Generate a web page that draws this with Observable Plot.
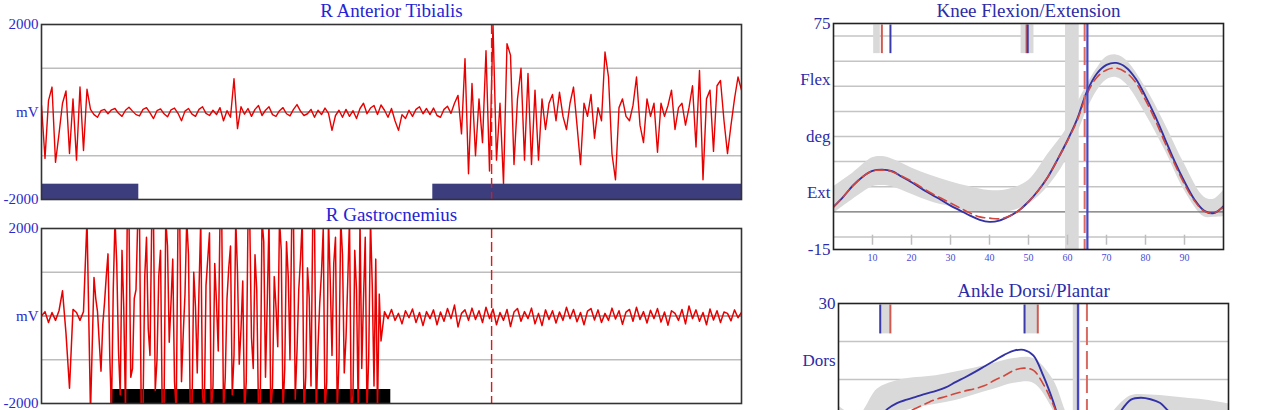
<!DOCTYPE html>
<html>
<head>
<meta charset="utf-8">
<script src="https://cdn.jsdelivr.net/npm/d3@7"></script>
<script src="https://cdn.jsdelivr.net/npm/@observablehq/plot@0.6"></script>
<style>
  html, body { margin: 0; padding: 0; background: #ffffff; }
  #wrap { position: relative; width: 1280px; height: 410px; overflow: hidden; background: #ffffff; }
  #wrap svg { position: absolute; background: transparent; overflow: visible; }
</style>
</head>
<body>
<div id="wrap"></div>
<script>
// ---------------- DATA ----------------
// EMG R Anterior Tibialis, one sample every 0.5 % of the gait cycle (mV)
const taStart = 0, taStep = 0.5;
const taValues = [
  150,-1060,260,570,-1150,-500,200,480,-950,300,-1100,570,-880,520,60,
  -60,-120,30,60,-40,50,80,-30,-100,40,110,20,-60,-90,60,100,-20,-150,30,70,-40,-110,50,90,-30,-200,20,80,-50,-100,60,120,-30,-80,
  40,-60,100,-200,30,-120,760,-380,120,-50,80,-100,60,150,-80,40,120,-60,-100,
  30,100,-40,-90,60,170,20,-80,-40,60,-120,40,-60,90,-30,-420,-80,40,-120,60,-100,30,-150,80,200,-40,90,150,-60,160,40,-120,80,
  -200,-420,-60,-150,40,-100,60,120,-40,80,-60,90,-80,-120,60,130,-30,
  200,380,-500,1220,-1410,650,-1000,300,-700,1400,-1350,2000,-1100,200,-1640,1560,1300,-1200,300,1000,-1100,880,-1200,500,-1100,300,-400,200,400,-200,450,-100,
  -400,200,570,-300,-1200,200,-100,400,-600,100,-200,1370,800,-960,-1550,100,300,-100,-200,150,800,-300,-700,300,-100,200,-920,200,-100,150,500,-400,100,200,-300,100,600,-800,950,-1550,300,500,-900,600,720,-200,-950,-300,300,800,500
];
// EMG R Gastrocnemius in three stretches (pre-burst, burst sampled finer, post-burst)
const gaPreStart = 0, gaPreStep = 0.5;
const gaPreValues = [0,100,-150,80,-100,120,575,-400,-1650,150,80,-100,100,2200,-2200];
const gaBurstStart = 7.5, gaBurstStep = 0.25;
const gaBurstValues = [
  880,400,100,-600,-1260,-200,300,900,1420,-900,
  -2200,600,2200,1200,-800,-1800,1500,200,-2200,2200,
  2200,-1400,-1200,400,600,2200,2200,-2200,-2200,900,
  1800,-300,-900,2200,2200,-1700,-1000,900,1500,-2200,
  -2200,2200,1600,-600,300,1300,-1500,-2200,2200,2200,
  -1500,-400,500,2200,1400,-2200,-2200,1000,200,-1300,
  600,2200,-1800,-2200,700,1300,1900,-2200,-1600,1200,
  300,-800,2200,2200,-2200,-1400,400,1100,1600,-1800,
  -900,2200,1000,-1100,-300,800,-2200,-1500,2200,2200,
  -500,-1200,1400,600,-2200,-2000,2200,1700,-1400,300,
  2200,-2200,-1600,900,200,-700,2200,1500,-2200,-1200,
  1700,900,-1000,2200,2200,-1900,-800,600,1300,2200,
  -2200,-1400,1100,400,-1600,2200,2200,-2200,-700,300,
  1000,2000,-2200,-1500,2200,800,-900,1200,1800,-2200,
  -1000,2200,1400,-1300,-500,800,2200,-2200,-1800,1500,
  600,-2200,2200,-1200,400,1800,-2200,-900,2200,700,
  -1600,1300,-2200,500,-570
];
const gaPostStart = 49, gaPostStep = 0.5;
const gaPostValues = [
  100,-60,150,-100,60,-180,120,-40,160,-150,80,-220,100,-60,140,-200,90,-120,170,-60,250,
  -250,60,140,-100,180,-80,120,-150,200,-60,160,-200,80,-100,150,-240,90,170,-120,100,
  -60,180,-180,60,-220,140,-80,120,-160,90,-100,200,-60,150,-130,80,-200,110,170,-90,
  140,-150,60,-100,180,-70,120,-190,90,150,-120,200,-80,100,-160,130,-60,170,-140,90,
  -210,120,60,-100,150,-180,230,-60,140,-120,80,-200,160,-90,120,-150,90,60,-110,140,-40,80
];
const taBarStart = [0, 55.9];
const taBarEnd = [13.9, 100];
const gaBarStart = [9.9];
const gaBarEnd = [49.9];
const emgEventPct = 64.3;

// Knee flexion/extension (deg) vs % gait cycle
const kneePct  = [0,2.5,5,7.5,10,12.5,15,17.5,20,22.5,25,27.5,30,32.5,35,37.5,40,42.5,45,47.5,50,52.5,55,57.5,60,62.5,65,67.5,70,72.5,75,77.5,80,82.5,85,87.5,90,92.5,95,97.5,100];
const kneeBlue = [2,6,10.5,14,16.3,16.8,16.2,14,11.8,9.3,7,4.8,2.5,0.5,-1.5,-3.2,-4,-3.5,-1.8,0.5,4,8.5,14,21,28.5,37,48,55,58.5,59.3,57.5,53,46,38,29,20,12,5,0.5,-0.5,2.3];
const kneeRed  = [2,6,10.5,14,16.3,16.6,16,14.2,12.2,9.8,7.5,5.5,3.5,1.5,-0.5,-2,-2.5,-2.8,-1.8,0.5,4,8.5,14,21,28.3,36.5,47,53.5,56.5,57.2,55.5,51.5,44.5,36.5,27.5,19,11,4.5,0.3,-0.5,2];
const kneeNormPct = [0,5,10,12.5,15,20,25,30,35,40,45,50,55,60,62.5,65,67.5,70,72.5,75,80,85,90,95,97.5,100];
const kneeNormLo  = [-0.7,5,10,10.5,10,7,4,2,0,-0.7,0,3,10,21.5,31,40.5,48,52.5,53.5,51,39,24.5,8.5,-2,-2.2,-2];
const kneeNormHi  = [10,15.5,21.5,22,21,17.5,14.5,12,10,8.5,9,12.5,23,33.7,43,50.5,57,61.7,62.5,60.5,49.6,35,19,5.9,5,8.5];
const kneeYTicks = [-15, 7.5, 30, 52.5, 75];
const kneeYLabels = ["-15", "Ext", "deg", "Flex", "75"];
const kneeGrid = [-10, 10, 20, 30, 40, 50, 60, 70];
const kneeXTicks = [10, 20, 30, 40, 50, 60, 70, 80, 90];
const kneeMarkGrey = [[10.3, 12.0], [48.1, 51.4]];
const kneeMarkRed = [12.4, 49.5];
const kneeMarkBlue = [14.6, 49.8];
const kneeToeOffGrey = [59.5, 63];
const kneeToeOffRed = 64.4;
const kneeToeOffBlue = 65.1;

// Ankle dorsi/plantar (deg)
const anklePct  = kneePct;
const ankleBlue = [-1,-3,-4,-3,-1,2.2,3.8,4.7,5.5,6.3,7,7.9,9.3,10.6,12,13.5,15,16.5,17.6,17.8,16.3,11,4.3,-4,-12,-17,-15,-9,-3,1.8,4.7,5.2,4.8,3.8,1.3,-0.5,-1,-1.3,-1.5,-1.3,-1];
const ankleRed  = [-2,-4,-5,-4.5,-3,-1.5,-0.5,1.3,2.5,3.7,4.8,5.5,6.3,7,7.6,8.4,9.8,11,12.4,13,12.4,8.8,3.5,-3,-10,-15,-14,-10,-5,-2,0,0.8,1,0.8,0.5,0,-0.5,-0.8,-1,-1.5,-2];
const ankleNormPct = [0,5,10,15,20,25,30,35,40,45,50,55,60,65,70,75,80,85,90,95,100];
const ankleNormLo  = [-6,-8,-2,1,2.5,3.5,4.5,6,7.5,9,9,2,-12,-16,-8,-2,-1,-1.5,-2,-2.5,-3];
const ankleNormHi  = [3,0.5,7.5,9.7,10.5,11,12,13,14.3,15.5,15.5,10,-2,-6,1,5.7,5.9,5.5,5,4.5,3.6];
const ankleYTicks = [-30, -15, 0, 15, 30];
const ankleYLabels = ["-30", "Plan", "deg", "Dors", "30"];
const ankleGrid = [-20, -10, 10, 20];
const ankleMarkGrey = [[10.7, 13.3], [47.7, 51.1]];
const ankleMarkRed = [13.3, 51.1];
const ankleMarkBlue = [10.7, 47.7];
const ankleToeOffGrey = [60.2, 62];
const ankleToeOffRed = 63.7;
const ankleToeOffBlue = 61.4;

// ---------------- STYLE ----------------
const SERIF = "'Liberation Serif', 'DejaVu Serif', serif";
const EMG_TITLE = "#2424d4";
const EMG_LABEL = "#2a2acb";
const KIN_TEXT = "#2c2ca8";
const BLUE = "#3232a6";
const RED = "#d2463c";
const GREY = "#d9d9d9";

const wrap = document.getElementById("wrap");
function place(svg, left, top) {
  svg.style.left = left + "px";
  svg.style.top = top + "px";
  wrap.appendChild(svg);
}
function series(start, step, values) {
  return values.map((v, i) => ({x: start + i * step, y: v}));
}

function emgPanel(title, data, barStart, barEnd, barColor, barTop, lineWidth) {
  const bars = barStart.map((s, i) => ({x1: s, x2: barEnd[i]}));
  return Plot.plot({
    width: 760, height: 215,
    marginLeft: 41, marginRight: 19, marginTop: 24, marginBottom: 16,
    x: {domain: [0, 100], axis: null},
    y: {domain: [-2000, 2000], axis: null},
    style: {fontFamily: SERIF, color: EMG_LABEL, background: "transparent", overflow: "visible"},
    marks: [
      Plot.ruleY([-1000, 1000], {stroke: "#bdbdbd", strokeWidth: 1.5}),
      Plot.ruleY([0], {stroke: "#8a8a8a", strokeWidth: 1.5}),
      Plot.rect(bars, {x1: "x1", x2: "x2", y1: -2000, y2: barTop, fill: barColor}),
      Plot.line(data, {x: "x", y: "y", stroke: "#e80000", strokeWidth: lineWidth, clip: true}),
      Plot.ruleX([emgEventPct], {stroke: "#e01818", strokeWidth: 1.4, strokeDasharray: "10,4"}),
      Plot.frame({stroke: "#333", strokeWidth: 1.6}),
      Plot.axisY({ticks: [-2000, 0, 2000], tickSize: 0, tickPadding: 3, fontSize: 15, label: null,
        tickFormat: d => d === 0 ? "mV" : String(d)}),
      Plot.text([title], {frameAnchor: "top", lineAnchor: "middle", dy: -14, fontSize: 19, fill: EMG_TITLE})
    ]
  });
}

const taData = series(taStart, taStep, taValues);
const gaData = [
  ...series(gaPreStart, gaPreStep, gaPreValues),
  ...series(gaBurstStart, gaBurstStep, gaBurstValues),
  ...series(gaPostStart, gaPostStep, gaPostValues)
];

place(emgPanel("R Anterior Tibialis", taData, taBarStart, taBarEnd, "#3b3d7d", -1650, 1.4), 0, 0);
place(emgPanel("R Gastrocnemius", gaData, gaBarStart, gaBarEnd, "#000000", -1680, 1.5), 0, 204);

function kinPanel(opts) {
  const blue = opts.pct.map((p, i) => ({x: p, y: opts.blue[i]}));
  const red = opts.pct.map((p, i) => ({x: p, y: opts.red[i]}));
  const norm = opts.normPct.map((p, i) => ({x: p, lo: opts.normLo[i], hi: opts.normHi[i]}));
  const [dmin, dmax] = opts.domain;
  const mTop = opts.markRange;
  const marks = [
    Plot.ruleY(opts.grid, {stroke: "#c4c4c4", strokeWidth: 1.5}),
    Plot.areaY(norm, {x: "x", y1: "lo", y2: "hi", fill: GREY, curve: "catmull-rom", clip: true}),
    Plot.ruleY([0], {stroke: "#6e6e6e", strokeWidth: 1.3}),
    Plot.rect([opts.toeGrey], {x1: d => d[0], x2: d => d[1], y1: dmin, y2: dmax, fill: GREY}),
    Plot.rect(opts.markGrey, {x1: d => d[0], x2: d => d[1], y1: mTop[0], y2: mTop[1], fill: GREY}),
    Plot.ruleX(opts.markRed, {y1: mTop[0], y2: mTop[1], stroke: "#d05a50", strokeWidth: 2}),
    Plot.ruleX(opts.markBlue, {y1: mTop[0], y2: mTop[1], stroke: "#3a3aa8", strokeWidth: 2}),
    Plot.line(blue, {x: "x", y: "y", stroke: BLUE, strokeWidth: 1.9, curve: "catmull-rom", clip: true}),
    Plot.line(red, {x: "x", y: "y", stroke: RED, strokeWidth: 1.6, strokeDasharray: "9,5", curve: "catmull-rom", clip: true}),
    Plot.ruleX([opts.toeBlue], {stroke: "#4646c4", strokeWidth: 2.2}),
    Plot.ruleX([opts.toeRed], {stroke: "#d86a62", strokeWidth: 2, strokeDasharray: "18,6"}),
    Plot.frame({stroke: "#222", strokeWidth: 1.6}),
    Plot.axisY({ticks: opts.yTicks, tickSize: 0, tickPadding: 3, fontSize: 17, label: null,
      tickFormat: d => opts.yLabels[opts.yTicks.indexOf(d)]}),
    Plot.text([opts.title], {frameAnchor: "top", lineAnchor: "middle", dy: opts.titleDy, fontSize: 19, fill: KIN_TEXT})
  ];
  if (opts.xTicks) {
    marks.push(Plot.ruleX(opts.xTicks, {y1: -13.3, y2: -9.3, stroke: "#bdbdbd", strokeWidth: 1.5}));
    marks.push(Plot.axisX({ticks: opts.xTicks, tickSize: 0, tickPadding: 4, fontSize: 10, label: null, color: "#4a4ad6"}));
  }
  return Plot.plot({
    width: 460, height: opts.height,
    marginLeft: opts.ml, marginRight: opts.mr, marginTop: 23, marginBottom: 21,
    x: {domain: [0, 100], axis: null},
    y: {domain: opts.domain, axis: null},
    style: {fontFamily: SERIF, color: KIN_TEXT, background: "transparent", overflow: "visible"},
    marks
  });
}

place(kinPanel({
  title: "Knee Flexion/Extension", titleDy: -13, height: 270, ml: 53, mr: 17,
  domain: [-15, 75], pct: kneePct, blue: kneeBlue, red: kneeRed,
  normPct: kneeNormPct, normLo: kneeNormLo, normHi: kneeNormHi,
  grid: kneeGrid, yTicks: kneeYTicks, yLabels: kneeYLabels, xTicks: kneeXTicks,
  markGrey: kneeMarkGrey, markRed: kneeMarkRed, markBlue: kneeMarkBlue, markRange: [63, 74.4],
  toeGrey: kneeToeOffGrey, toeRed: kneeToeOffRed, toeBlue: kneeToeOffBlue
}), 780, 0);

place(kinPanel({
  title: "Ankle Dorsi/Plantar", titleDy: -13, height: 272, ml: 58, mr: 12,
  domain: [-30, 30], pct: anklePct, blue: ankleBlue, red: ankleRed,
  normPct: ankleNormPct, normLo: ankleNormLo, normHi: ankleNormHi,
  grid: ankleGrid, yTicks: ankleYTicks, yLabels: ankleYLabels, xTicks: null,
  markGrey: ankleMarkGrey, markRed: ankleMarkRed, markBlue: ankleMarkBlue, markRange: [22, 29.6],
  toeGrey: ankleToeOffGrey, toeRed: ankleToeOffRed, toeBlue: ankleToeOffBlue
}), 780, 280);
</script>
</body>
</html>
